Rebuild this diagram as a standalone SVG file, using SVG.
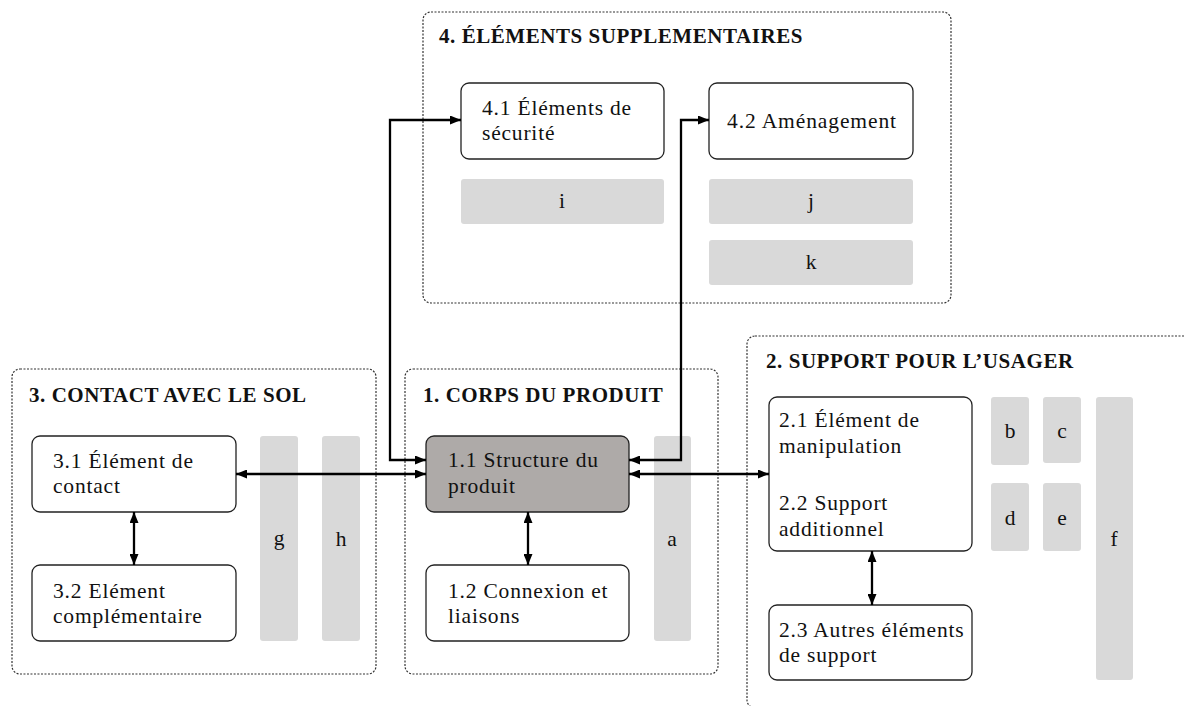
<svg xmlns="http://www.w3.org/2000/svg" width="1184" height="706" viewBox="0 0 1184 706">
<defs>
<style>
.grp{fill:none;stroke:#333;stroke-width:1.2;stroke-dasharray:2 1.5}
.box{fill:#fff;stroke:#222;stroke-width:1.3}
.dark{fill:#aeaaa8;stroke:#222;stroke-width:1.3}
.bar{fill:#d9d9d9;stroke:none}
.t{font-family:'Liberation Serif','DejaVu Serif',serif;font-size:21.5px;fill:#111;letter-spacing:0.8px}
.h{font-family:'Liberation Serif','DejaVu Serif',serif;font-size:21px;font-weight:bold;fill:#111;letter-spacing:0.55px}
.c{text-anchor:middle;letter-spacing:0}
.con{fill:none;stroke:#000;stroke-width:2.3}
</style>
<marker id="ah" viewBox="0 0 11 9" refX="11" refY="4.5" markerWidth="11" markerHeight="9" markerUnits="userSpaceOnUse" orient="auto-start-reverse">
<path d="M0,0 L11,4.5 L0,9 Z" fill="#000"/>
</marker>
</defs>
<rect width="1184" height="706" fill="#fff"/>

<g id="group4">
<rect class="grp" x="423" y="12" width="528" height="291" rx="8"/>
<text class="h" x="439" y="43">4. ÉLÉMENTS SUPPLEMENTAIRES</text>
</g>
<g id="n41">
<rect class="box" x="461" y="83" width="203" height="76" rx="8"/>
<text class="t" x="482" y="115">4.1 Éléments de</text>
<text class="t" x="482" y="140">sécurité</text>
</g>
<g id="n42">
<rect class="box" x="709" y="83" width="204" height="76" rx="8"/>
<text class="t c" x="812" y="128" style="letter-spacing:0.9px">4.2 Aménagement</text>
</g>
<g id="ni"><rect class="bar" x="461" y="179" width="203" height="45" rx="3"/><text class="t c" x="562" y="208">i</text></g>
<g id="nj"><rect class="bar" x="709" y="179" width="204" height="45" rx="3"/><text class="t c" x="811" y="208">j</text></g>
<g id="nk"><rect class="bar" x="709" y="240" width="204" height="45" rx="3"/><text class="t c" x="811" y="269">k</text></g>

<g id="group3">
<rect class="grp" x="12" y="369" width="364" height="305" rx="8"/>
<text class="h" x="29" y="402">3. CONTACT AVEC LE SOL</text>
</g>
<g id="n31">
<rect class="box" x="32" y="436" width="204" height="76" rx="8"/>
<text class="t" x="53" y="468">3.1 Élément de</text>
<text class="t" x="53" y="493">contact</text>
</g>
<g id="n32">
<rect class="box" x="32" y="565" width="204" height="76" rx="8"/>
<text class="t" x="53" y="598">3.2 Elément</text>
<text class="t" x="53" y="623">complémentaire</text>
</g>
<g id="ng"><rect class="bar" x="260" y="436" width="38" height="205" rx="3"/><text class="t c" x="279" y="545">g</text></g>
<g id="nh"><rect class="bar" x="322" y="436" width="38" height="205" rx="3"/><text class="t c" x="341" y="546">h</text></g>

<g id="group1">
<rect class="grp" x="405" y="369" width="313" height="305" rx="8"/>
<text class="h" x="423" y="402">1. CORPS DU PRODUIT</text>
</g>
<g id="na"><rect class="bar" x="654" y="436" width="37" height="205" rx="3"/><text class="t c" x="672" y="546">a</text></g>
<g id="n11">
<rect class="dark" x="426" y="436" width="203" height="76" rx="8"/>
<text class="t" x="448" y="467">1.1 Structure du</text>
<text class="t" x="448" y="493">produit</text>
</g>
<g id="n12">
<rect class="box" x="426" y="565" width="203" height="76" rx="8"/>
<text class="t" x="448" y="598">1.2 Connexion et</text>
<text class="t" x="448" y="623">liaisons</text>
</g>

<g id="group2">
<rect class="grp" x="747" y="336" width="450" height="372" rx="8"/>
<text class="h" x="766" y="368">2. SUPPORT POUR L’USAGER</text>
</g>
<g id="n21">
<rect class="box" x="769" y="397" width="203" height="154" rx="8"/>
<text class="t" x="779" y="427">2.1 Élément de</text>
<text class="t" x="779" y="453">manipulation</text>
<text class="t" x="779" y="510">2.2 Support</text>
<text class="t" x="779" y="536">additionnel</text>
</g>
<g id="n23">
<rect class="box" x="769" y="605" width="203" height="75" rx="8"/>
<text class="t" x="779" y="637">2.3 Autres éléments</text>
<text class="t" x="779" y="662">de support</text>
</g>
<g id="nb"><rect class="bar" x="991" y="397" width="38" height="68" rx="3"/><text class="t c" x="1010" y="438">b</text></g>
<g id="nc"><rect class="bar" x="1043" y="397" width="38" height="66" rx="3"/><text class="t c" x="1062" y="438">c</text></g>
<g id="nd"><rect class="bar" x="991" y="483" width="38" height="68" rx="3"/><text class="t c" x="1010" y="525">d</text></g>
<g id="ne"><rect class="bar" x="1043" y="483" width="38" height="68" rx="3"/><text class="t c" x="1062" y="525">e</text></g>
<g id="nf"><rect class="bar" x="1096" y="397" width="37" height="283" rx="3"/><text class="t c" x="1114" y="546">f</text></g>

<g id="connectors">
<path class="con" d="M426,460 H390 V120 H461" marker-start="url(#ah)" marker-end="url(#ah)"/>
<path class="con" d="M629,460 H681 V120 H709" marker-start="url(#ah)" marker-end="url(#ah)"/>
<path class="con" d="M236,474 H426" marker-start="url(#ah)" marker-end="url(#ah)"/>
<path class="con" d="M629,474 H769" marker-start="url(#ah)" marker-end="url(#ah)"/>
<path class="con" d="M528,512 V565" marker-start="url(#ah)" marker-end="url(#ah)"/>
<path class="con" d="M134,512 V565" marker-start="url(#ah)" marker-end="url(#ah)"/>
<path class="con" d="M872,551 V605" marker-start="url(#ah)" marker-end="url(#ah)"/>
</g>
</svg>
